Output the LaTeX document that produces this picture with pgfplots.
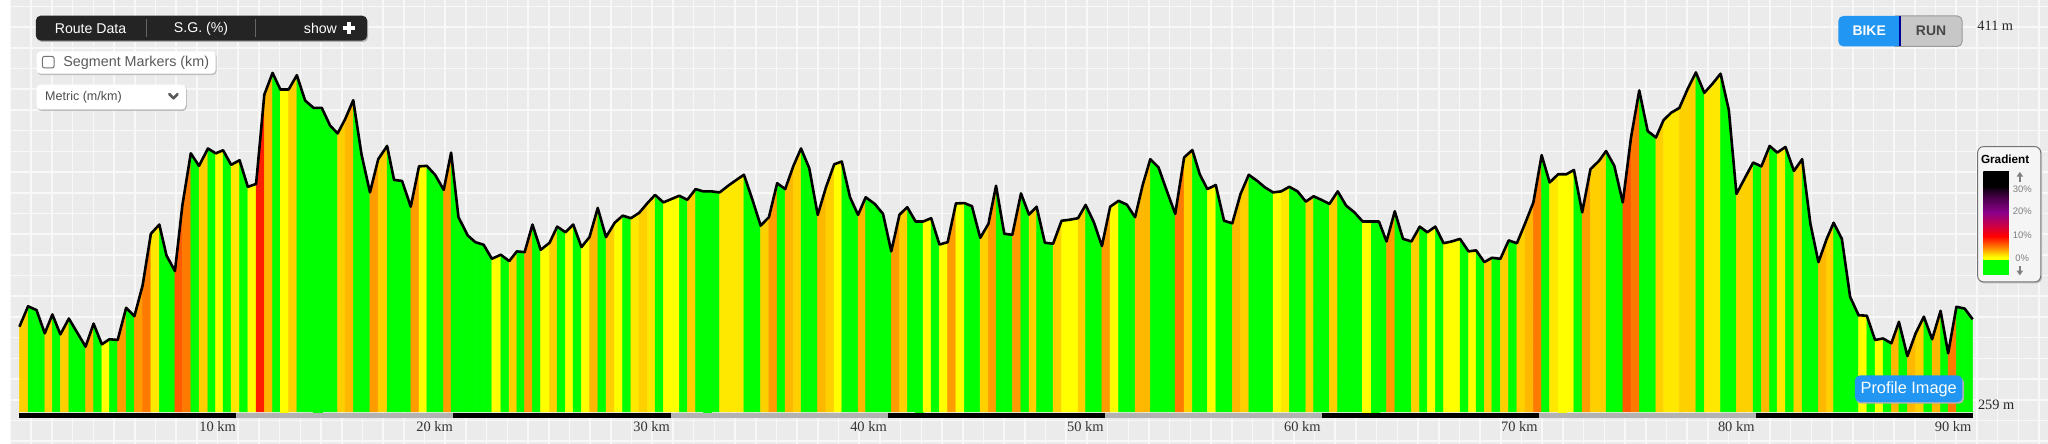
\documentclass[border=0pt]{standalone}
\usepackage{pgfplots}
\usepackage{pgfplotstable}
\pgfplotsset{compat=1.18}
\usepackage{fontspec}
\setmainfont{Liberation Serif}
\newfontfamily\uisans{Liberation Sans}
\definecolor{c0}{HTML}{00FF00}
\definecolor{c1}{HTML}{FFFF00}
\definecolor{c2}{HTML}{FFE800}
\definecolor{c3}{HTML}{FFD000}
\definecolor{c4}{HTML}{FFB800}
\definecolor{c5}{HTML}{FF9C00}
\definecolor{c6}{HTML}{FF7A00}
\definecolor{c7}{HTML}{FF5A00}
\definecolor{c8}{HTML}{FF1E00}
\definecolor{bgc}{HTML}{EBEBEB}
\definecolor{gridc}{HTML}{F8F8F8}
\definecolor{blueb}{HTML}{2196F3}
\definecolor{orng}{HTML}{FF8000}
\definecolor{crim}{HTML}{CC0044}
\definecolor{purp}{HTML}{8B008B}
\definecolor{dpurp}{HTML}{400040}
\pgfdeclareverticalshading{gradleg}{100bp}{color(0bp)=(yellow); color(25bp)=(yellow); color(26.4bp)=(yellow); color(32bp)=(orng); color(38.2bp)=(red); color(44.3bp)=(crim); color(51.9bp)=(purp); color(61.4bp)=(dpurp); color(67bp)=(black); color(75bp)=(black); color(100bp)=(black)}

% km, elevation (m), colour class of the segment that starts at this point
\pgfplotstableread{
km ele c
0.00 292.4 3
0.40 300.4 0
0.79 298.9 0
1.17 289.8 3
1.52 297.2 0
1.89 289.4 3
2.28 295.6 0
3.05 284.6 4
3.42 293.6 0
3.80 285.5 1
4.15 287.5 0
4.53 287.2 5
4.92 299.8 0
5.30 296.5 5
5.68 308.6 6
6.06 328.8 2
6.45 332.4 0
6.78 320.3 0
7.17 314.2 7
7.51 339.8 6
7.90 360.3 0
8.28 355.4 3
8.69 362.2 0
9.05 360.3 1
9.39 361.5 0
9.76 355.8 2
10.15 357.6 0
10.53 347.2 1
10.91 348.3 8
11.29 383.3 4
11.67 391.8 0
12.03 385.3 1
12.41 385.3 3
12.79 390.9 0
13.17 381.0 0
13.56 378.1 0
13.94 378.1 0
14.32 371.2 0
14.67 368.1 3
15.01 373.6 4
15.39 381.1 0
15.77 359.9 0
16.16 345.0 5
16.54 358.0 3
16.95 363.2 0
17.27 349.9 0
17.64 349.5 0
18.04 339.4 5
18.42 355.2 1
18.78 355.4 0
19.17 351.8 0
19.56 346.0 5
19.90 360.6 0
20.24 335.3 0
20.67 328.1 0
21.02 325.5 0
21.40 324.5 0
21.78 319.0 1
22.19 320.6 0
22.58 318.1 3
22.93 321.9 0
23.29 321.6 5
23.65 332.4 0
24.03 322.5 1
24.44 325.3 3
24.79 331.6 0
25.17 329.4 1
25.53 332.4 0
25.91 323.6 1
26.28 327.5 4
26.66 338.9 0
27.04 327.5 3
27.44 333.1 1
27.81 335.9 0
28.19 334.9 2
28.57 337.0 3
28.95 340.8 2
29.30 344.0 0
29.69 341.1 1
30.42 343.7 0
30.79 342.1 3
31.17 346.3 0
31.52 345.4 0
31.90 345.4 0
32.28 345.0 2
32.67 347.6 2
33.05 349.9 2
33.40 351.9 0
33.78 342.4 0
34.17 332.0 3
34.55 335.3 5
34.93 348.6 0
35.30 346.3 4
35.68 355.4 3
36.03 362.2 0
36.41 354.5 0
36.80 336.2 4
37.18 347.0 3
37.56 356.0 1
37.91 357.1 0
38.29 343.1 0
38.66 336.2 4
39.01 343.1 0
39.43 340.5 0
39.81 336.6 0
40.19 321.9 5
40.57 336.3 3
40.93 339.2 0
41.31 333.6 0
41.66 333.6 1
42.03 334.9 0
42.41 324.6 1
42.79 325.5 5
43.17 340.7 1
43.56 340.8 0
43.91 339.6 0
44.29 327.2 3
44.67 332.7 5
45.02 347.6 0
45.40 328.8 0
45.77 328.4 5
46.17 344.6 0
46.54 336.3 3
46.89 339.4 0
47.27 325.3 0
47.65 324.9 3
48.04 333.9 1
48.42 334.3 1
48.80 334.9 3
49.15 340.1 0
49.53 333.3 0
49.90 324.0 5
50.28 339.4 1
50.67 341.7 0
51.05 340.2 0
51.43 335.3 4
51.78 347.9 4
52.13 358.0 0
52.51 354.8 0
52.90 345.4 0
53.28 336.6 6
53.69 358.7 3
54.07 361.6 0
54.41 352.1 0
54.76 346.3 1
55.15 347.9 0
55.53 333.9 0
55.91 332.9 4
56.29 344.4 3
56.67 351.9 0
57.06 349.5 0
57.41 347.0 0
57.79 345.0 1
58.16 345.4 2
58.54 347.2 0
58.92 345.4 0
59.30 341.4 3
59.66 343.5 0
60.04 342.0 0
60.39 340.5 3
60.77 345.4 0
61.16 339.8 0
61.54 337.2 0
61.92 333.6 1
62.30 333.6 0
62.67 333.6 0
63.02 325.8 5
63.40 337.6 0
63.78 326.8 0
64.17 325.8 3
64.55 331.6 0
64.90 329.4 1
65.27 331.6 0
65.65 325.1 1
66.03 325.8 1
66.41 326.8 0
66.80 321.9 1
67.15 322.3 0
67.53 317.7 3
67.88 319.4 0
68.27 319.0 3
68.65 326.2 0
69.03 325.1 3
69.41 332.9 4
69.79 341.1 6
70.17 359.6 0
70.54 348.9 2
70.93 352.1 1
71.31 352.1 1
71.66 353.8 0
72.04 337.2 5
72.42 354.1 3
72.81 357.3 3
73.14 361.2 0
73.52 355.4 0
73.91 341.1 7
74.29 366.5 6
74.67 384.9 0
75.06 369.0 0
75.44 366.5 3
75.79 373.3 2
76.14 376.2 2
76.52 378.1 3
76.90 385.5 3
77.28 392.0 0
77.67 384.0 2
78.05 387.6 2
78.42 391.5 0
78.80 377.2 0
79.15 344.4 3
79.53 350.5 3
79.92 356.7 0
80.30 355.2 4
80.68 363.2 0
81.03 360.6 2
81.41 362.8 0
81.80 353.4 3
82.18 358.0 0
82.56 332.7 0
82.93 317.7 4
83.31 326.8 3
83.63 333.1 0
84.01 326.8 0
84.39 304.1 0
84.78 296.9 1
85.16 296.7 0
85.54 287.2 1
85.91 287.8 0
86.29 285.9 4
86.64 294.3 0
87.03 280.9 4
87.41 289.8 3
87.79 296.3 0
88.17 287.5 4
88.56 298.6 0
88.91 282.0 6
89.29 300.2 0
89.67 299.5 0
90.04 295.3 0
}\profile

\begin{document}
\pgfplotstablegetrowsof{\profile}
\pgfmathtruncatemacro\nseg{\pgfplotsretval-2}
\begin{tikzpicture}
\path[use as bounding box] (0,0) rectangle (1024pt,223pt);
% ---------- background grid (pixel units, y downwards)
\begin{scope}[x=0.5pt,y=-0.5pt,yshift=223pt]
\fill[bgc] (0,0) rectangle (2048,446);
\begin{scope}
\clip (0,0) rectangle (2048,446);
\foreach \k in {0,...,98} \draw[gridc, line width=0.8pt] ({0.6+20.8*\k},0) -- ++(0,446);
\foreach \k in {0,...,21} \draw[gridc, line width=0.8pt] (0,{6.5+20.8*\k}) -- ++(2048,0);
\end{scope}
\end{scope}
% ---------- profile
\begin{axis}[
  at={(4.75pt,16pt)}, anchor=south west,
  scale only axis, width=981.4pt, height=195pt,
  xmin=0, xmax=90.04, ymin=259, ymax=411,
  enlargelimits=false, clip=false,
  axis line style={draw=none}, tick style={draw=none},
  ytick=\empty,
  xtick={10,20,30,40,50,60,70,80,90},
  xticklabels={10 km,20 km,30 km,40 km,50 km,60 km,70 km,80 km,90 km},
  xticklabel style={anchor=north east, inner sep=0pt, yshift=-4.4pt,
    font=\fontsize{7.25pt}{8pt}\selectfont, text=black!80},
]
\foreach \i in {0,...,\nseg}{
  \pgfmathtruncatemacro\j{\i+1}
  \pgfplotstablegetelem{\i}{km}\of\profile \let\xa\pgfplotsretval
  \pgfplotstablegetelem{\i}{ele}\of\profile \let\ya\pgfplotsretval
  \pgfplotstablegetelem{\i}{c}\of\profile \let\cc\pgfplotsretval
  \pgfplotstablegetelem{\j}{km}\of\profile \let\xb\pgfplotsretval
  \pgfplotstablegetelem{\j}{ele}\of\profile \let\yb\pgfplotsretval
  \edef\temp{\noexpand\addplot[draw=c\cc, line width=0.25pt, fill=c\cc] coordinates {(\xa,259) (\xa,\ya) (\xb,\yb) (\xb,259)} -- cycle;}
  \temp
}
\addplot[black, line width=1.3pt, line join=round] table[x=km, y=ele] {\profile};
\end{axis}
% ---------- overlays (pixel units, y downwards)
\begin{scope}[x=0.5pt,y=-0.5pt,yshift=223pt]
% km bar
\foreach \k in {0,...,8}{
  \ifodd\k\relax\def\bc{black!30}\else\def\bc{black}\fi
  \fill[\bc] ({9.5+218.1*\k},415) rectangle ({9.5+218.1*(\k+1)},420);
}
% toolbar
\fill[black!30, rounded corners=2.5pt] (27,17.2) rectangle (360,42.2);
\fill[black!86, rounded corners=2.5pt] (26,15.7) rectangle (359,40.7);
\draw[black!60, line width=0.5pt] (137,19) -- (137,37);
\draw[black!60, line width=0.5pt] (247,19) -- (247,37);
\node[text=white, inner sep=0pt, font=\uisans\fontsize{7.1pt}{8pt}\selectfont] at (81,28.6) {Route Data};
\node[text=white, inner sep=0pt, font=\uisans\fontsize{7.1pt}{8pt}\selectfont] at (192,28.6) {S.G. (\%)};
\node[text=white, inner sep=0pt, font=\uisans\fontsize{7.1pt}{8pt}\selectfont] at (312,28.6) {show};
\draw[white, line width=1.8pt] (334.3,28.3) -- (346.7,28.3) (340.5,22.1) -- (340.5,34.5);
% segment markers
\fill[black!25, rounded corners=2pt] (27.7,53.2) rectangle (207.7,75.5);
\fill[white, rounded corners=2pt] (26.7,51.7) rectangle (206.7,74);
\draw[black!55, fill=white, rounded corners=1pt, line width=0.5pt] (32.7,56.7) rectangle (44.3,68.3);
\node[anchor=west, inner sep=0pt, text=black!65, font=\uisans\fontsize{7.2pt}{8pt}\selectfont] at (53.3,62.7) {Segment Markers (km)};
% metric
\fill[black!25, rounded corners=2pt] (27.7,86.5) rectangle (177.7,111.5);
\fill[white, rounded corners=2pt] (26.7,85) rectangle (176.7,110);
\node[anchor=west, inner sep=0pt, text=black!70, font=\uisans\fontsize{6.3pt}{7pt}\selectfont] at (35,97.3) {Metric (m/km)};
\draw[black!65, line width=1.3pt, line cap=round, line join=round] (160.2,94.6) -- (164.3,98.8) -- (168.4,94.6);
% bike / run
\filldraw[fill=black!22, draw=black!40, line width=0.5pt, rounded corners=2.5pt] (1890,16) rectangle (1961.7,46.7);
\fill[blueb, rounded corners=2.5pt] (1837.3,16) rectangle (1899.3,46.7);
\fill[blueb] (1890,16) rectangle (1899.3,46.7);
\draw[blue!60!black, line width=0.6pt] (1899.3,16.5) -- (1899.3,46.2);
\node[text=white, inner sep=0pt, font=\uisans\bfseries\fontsize{7pt}{8pt}\selectfont] at (1868.3,31.3) {BIKE};
\node[text=black!72, inner sep=0pt, font=\uisans\bfseries\fontsize{7pt}{8pt}\selectfont] at (1930.5,31.3) {RUN};
% elevation labels
\node[anchor=west, inner sep=0pt, text=black!85, font=\fontsize{7.2pt}{8pt}\selectfont] at (1976.7,26) {411 m};
\node[anchor=west, inner sep=0pt, text=black!85, font=\fontsize{7.2pt}{8pt}\selectfont] at (1977.3,406.7) {259 m};
% gradient legend box
\fill[black!25, rounded corners=3pt] (1978.5,148.8) rectangle (2042,284.8);
\filldraw[fill=black!4, draw=black!55, line width=0.5pt, rounded corners=3pt] (1977.3,147.3) rectangle (2040.7,283.3);
\node[anchor=west, inner sep=0pt, font=\uisans\bfseries\fontsize{5.9pt}{7pt}\selectfont] at (1980.3,160) {Gradient};
\fill[c0] (1983,260.7) rectangle (2008.7,276.7);
\node[inner sep=0pt, text=black!50, font=\uisans\fontsize{4.75pt}{5pt}\selectfont] at (2022.3,190) {30\%};
\node[inner sep=0pt, text=black!50, font=\uisans\fontsize{4.75pt}{5pt}\selectfont] at (2022.3,212.7) {20\%};
\node[inner sep=0pt, text=black!50, font=\uisans\fontsize{4.75pt}{5pt}\selectfont] at (2022.3,236.7) {10\%};
\node[inner sep=0pt, text=black!50, font=\uisans\fontsize{4.75pt}{5pt}\selectfont] at (2022,259.3) {0\%};
\draw[black!50, line width=1.1pt] (2019.7,182.5) -- (2019.7,176);
\fill[black!50] (2016.4,177.5) -- (2019.7,172.8) -- (2023,177.5) -- cycle;
\draw[black!50, line width=1.1pt] (2019.7,267) -- (2019.7,273.5);
\fill[black!50] (2016.4,272) -- (2019.7,276.7) -- (2023,272) -- cycle;
% profile image button
\fill[black!30, rounded corners=2.5pt] (1855,379) rectangle (1963.5,405.7);
\fill[blueb, rounded corners=2.5pt] (1854,377.3) rectangle (1962,404);
\node[text=white, inner sep=0pt, font=\uisans\fontsize{8.2pt}{9pt}\selectfont] at (1908,390.9) {Profile Image};
\end{scope}
% gradient colour bar (absolute pt units, y upwards)
\shade[shading=gradleg] (991.5pt,92.65pt) rectangle (1004.35pt,136.65pt);
\end{tikzpicture}
\end{document}
